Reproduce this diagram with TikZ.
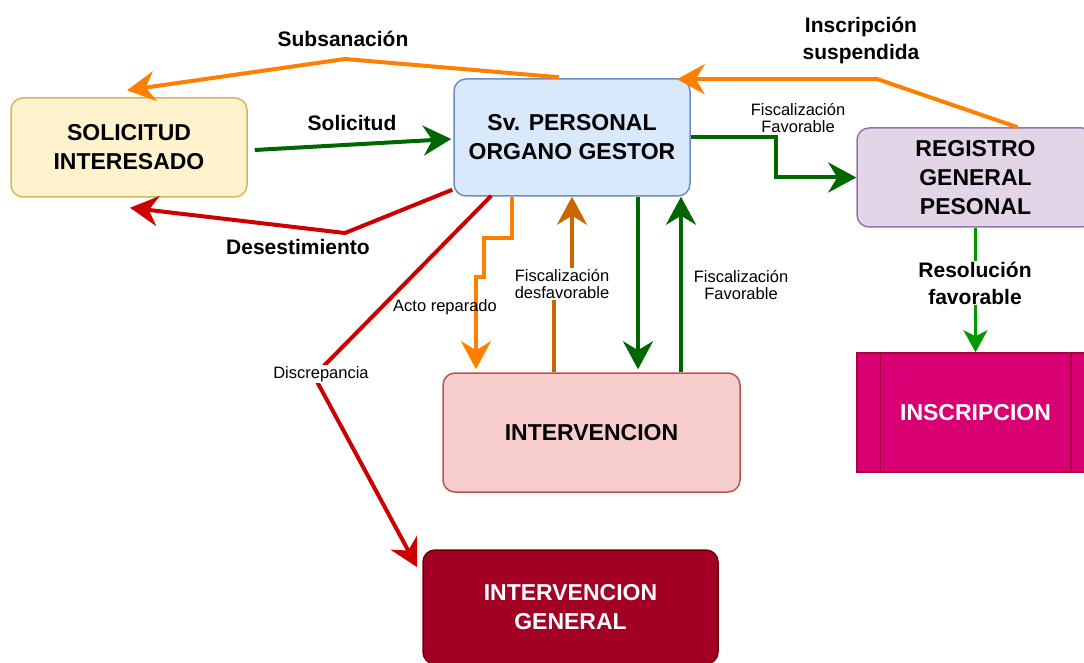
\documentclass[tikz,border=0pt]{standalone}
\usepackage{fontspec}
\setmainfont{Liberation Sans}
\usetikzlibrary{arrows.meta,calc}
\definecolor{solfill}{HTML}{FFF2CC}\definecolor{solline}{HTML}{D6B656}
\definecolor{svfill}{HTML}{DAE8FC}\definecolor{svline}{HTML}{6C8EBF}
\definecolor{regfill}{HTML}{E1D5E7}\definecolor{regline}{HTML}{9673A6}
\definecolor{intfill}{HTML}{F8CECC}\definecolor{intline}{HTML}{B85450}
\definecolor{igfill}{HTML}{A20025}\definecolor{igline}{HTML}{6F0000}
\definecolor{insfill}{HTML}{D80073}\definecolor{insline}{HTML}{A50040}
\definecolor{aorange}{HTML}{FF8000}\definecolor{ared}{HTML}{CC0000}
\definecolor{dgreen}{HTML}{006600}\definecolor{abrown}{HTML}{CC6600}
\definecolor{lgreen}{HTML}{009900}
\begin{document}
\begin{tikzpicture}[x=1pt,y=-1pt,
  box/.style={draw,line width=1.5pt,rounded corners=12pt,inner sep=0pt,align=center,font=\fontsize{23}{29}\selectfont\bfseries},
  lbl/.style={align=center,inner sep=1pt,font=\fontsize{21}{27}\selectfont\bfseries},
  slbl/.style={align=center,inner sep=1pt,font=\fontsize{16.5}{17}\selectfont},
  flow/.style={line width=4pt,-{Stealth[length=28pt,width=30pt,inset=9pt]}},
  thinflow/.style={line width=3pt,-{Stealth[length=22pt,width=24pt,inset=6pt]}}]
\useasboundingbox (0,0) rectangle (1084,663);
\clip (0,0) rectangle (1084,663);
% boxes
\node[box,fill=solfill,draw=solline,minimum width=236pt,minimum height=99pt] (sol) at (129,147.5) {SOLICITUD\\INTERESADO};
\node[box,fill=svfill,draw=svline,minimum width=236pt,minimum height=117pt] (sv) at (572,137.5) {Sv. PERSONAL\\ORGANO GESTOR};
\node[box,fill=regfill,draw=regline,minimum width=237pt,minimum height=99pt] (reg) at (975.5,177.5) {REGISTRO\\GENERAL\\PESONAL};
\node[box,rounded corners=0pt,fill=insfill,draw=insline,text=white,minimum width=237pt,minimum height=119pt] (ins) at (975.5,412.5) {INSCRIPCION};
\draw[insline,line width=1.5pt] ($(ins.north west)+(24,0)$) -- ($(ins.south west)+(24,0)$);
\draw[insline,line width=1.5pt] ($(ins.north east)+(-24,0)$) -- ($(ins.south east)+(-24,0)$);
\node[box,fill=intfill,draw=intline,minimum width=297pt,minimum height=119pt] (int) at (591.5,432.5) {INTERVENCION};
\node[box,fill=igfill,draw=igline,text=white,minimum width=295pt,minimum height=114pt] (ig) at (570.5,607) {INTERVENCION\\GENERAL};
% Subsanacion
\coordinate (subbend) at (345,59);
\draw[flow,aorange] ($(sv.north)+(-13,-1)$) -- (subbend) -- ($(sol.north)+(-2,-7)$);
\node[lbl] (subl) at (343,39) {Subsanación};
% Solicitud
\draw[flow,dgreen] ($(sol.east)+(7,2.5)$) -- ($(sv.west)+(-2,1.5)$);
\node[lbl] (soll) at (352,123) {Solicitud};
% Desestimiento
\coordinate (desbend) at (345,233);
\draw[flow,ared] ($(sv.south west)+(-1,-7)$) -- (desbend) -- ($(sol.south)+(1,10)$);
\node[lbl] (desl) at (298,247) {Desestimiento};
% Inscripcion suspendida
\coordinate (insbend) at (877,79);
\draw[flow,aorange] ($(reg.north)+(42,0)$) -- (insbend) -- ($(sv.north east)+(-14,1)$);
\node[lbl] (susl) at (861,40) {Inscripción\\suspendida};
% Fiscalizacion favorable hacia registro
\draw[flow,dgreen] (sv.east) -- ++(85,0) |- (reg.west);
\node[slbl] (fav1) at (798,118) {Fiscalización\\Favorable};
% Resolucion favorable
\draw[thinflow,lgreen] (reg.south) -- (ins.north);
\node[lbl,fill=white] (resl) at (975,283) {Resolución\\favorable};
% Acto reparado
\draw[flow,aorange] ($(sv.south)+(-60,0)$) -- ++(0,41) -- ++(-28,0) -- ++(0,39) -- ++(-8,0) -- ($(int.north)+(-115.5,-3)$);
\node[slbl] (actl) at (445,307) {Acto reparado};
% Fiscalizacion desfavorable
\draw[flow,abrown] ($(int.north)+(-38,0)$) -- ++(0,-88) -| (sv.south);
\node[slbl,fill=white] (desf) at (562,284) {Fiscalización\\desfavorable};
% ida y vuelta con intervencion
\draw[flow,dgreen] ($(sv.south)+(66,0)$) -- ($(int.north)+(46.5,-3)$);
\draw[flow,dgreen] ($(int.north)+(89.5,0)$) -- ($(sv.south)+(109,0)$);
\node[slbl] (fav2) at (741,285) {Fiscalización\\Favorable};
% Discrepancia
\coordinate (disbend) at (314,376);
\draw[flow,ared] ($(sv.south west)+(38,-1)$) -- (disbend) -- ($(ig.north west)+(-5,18)$);
\node[slbl,fill=white] (disl) at (321,374) {Discrepancia};
\end{tikzpicture}
\end{document}
